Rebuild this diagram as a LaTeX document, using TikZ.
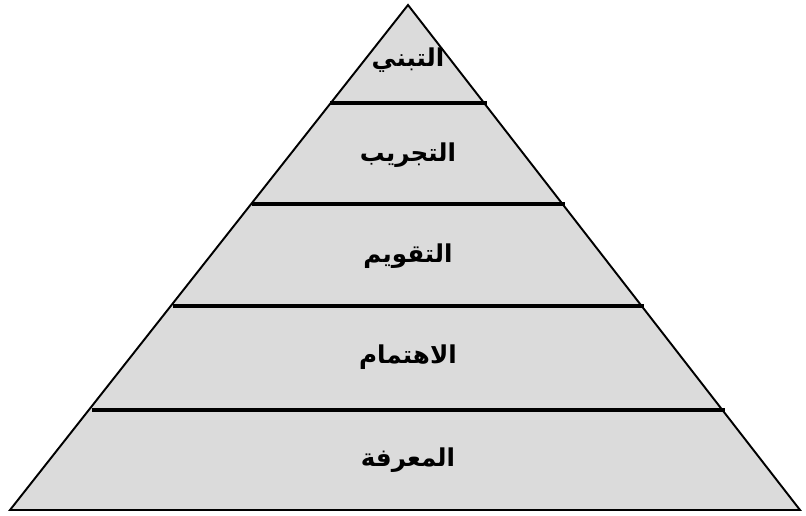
\documentclass[tikz,border=0pt]{standalone}
\usepackage{fontspec}
\newfontfamily\arabicfont[Script=Arabic]{DejaVu Sans}
\TeXXeTstate=1
\usetikzlibrary{positioning}

\begin{document}
\begin{tikzpicture}[x=0.02cm, y=-0.02cm,
		stage/.style={font=\arabicfont\fontsize{14}{16}\selectfont\bfseries, text=black, inner sep=1pt},
		edge/.style={black, line width=1.1pt, line join=miter},
		divider/.style={black, line width=2pt}]
	
	% Cadre
	\useasboundingbox (0,0) rectangle (806,516);
	
	% Sommets
	\coordinate (apex) at (408,5);
	\coordinate (bl) at (10,510);
	\coordinate (br) at (800,510);
	
	% Pyramide
	\fill[gray!28] (apex) -- (bl) -- (br) -- cycle;
	\draw[edge] (apex) -- (bl) -- (br) -- cycle;
	
	% Séparations
	\coordinate (l1) at (330,103);  \coordinate (r1) at (487,103);
	\coordinate (l2) at (252,204);  \coordinate (r2) at (565,204);
	\coordinate (l3) at (173,306);  \coordinate (r3) at (644,306);
	\coordinate (l4) at (92,410);   \coordinate (r4) at (725,410);
	\draw[divider] (l1) -- (r1);
	\draw[divider] (l2) -- (r2);
	\draw[divider] (l3) -- (r3);
	\draw[divider] (l4) -- (r4);
	
	% Étapes
	\node[stage] (s5) at (408,60) {\beginR التبني\endR};
	\node[stage] (s4) at (408,155) {\beginR التجريب\endR};
	\node[stage] (s3) at (408,256) {\beginR التقويم\endR};
	\node[stage] (s2) at (408,357) {\beginR الاهتمام\endR};
	\node[stage] (s1) at (408,460) {\beginR المعرفة\endR};
	
\end{tikzpicture}
\end{document}
